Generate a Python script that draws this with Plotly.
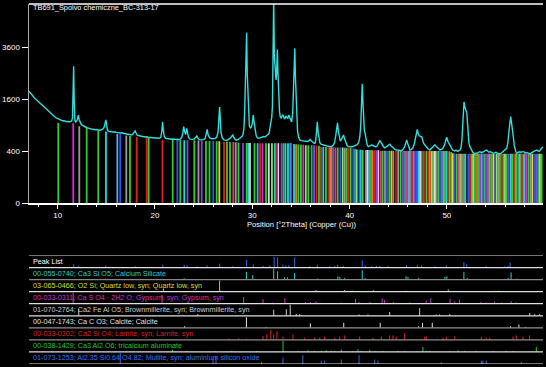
import numpy as np
import plotly.graph_objects as go

W, H = 546, 367

# ---------------- diffraction pattern (2theta, counts) ----------------
two_theta = [7.05, 7.15, 7.25, 7.33, 7.42, 7.5, 7.6, 7.7, 7.84, 7.95, 8.05, 8.2, 8.3, 8.4, 8.52, 8.62, 8.75, 8.85, 8.95, 9.05,
             9.15, 9.25, 9.35, 9.45, 9.55, 9.65, 9.75, 9.85, 9.95, 10.05, 10.15, 10.25, 10.35, 10.45, 10.55, 10.65, 10.75, 10.85, 10.95, 11.05,
             11.15, 11.25, 11.35, 11.45, 11.52, 11.58, 11.64, 11.70, 11.76, 11.85, 11.95, 12.05, 12.12, 12.2, 12.3, 12.4, 12.5, 12.6, 12.7, 12.8,
             12.9, 13.0, 13.1, 13.2, 13.3, 13.4, 13.5, 13.6, 13.7, 13.8, 13.9, 14.0, 14.1, 14.2, 14.3, 14.4, 14.5, 14.6, 14.7, 14.8,
             14.88, 14.95, 15.02, 15.1, 15.2, 15.3, 15.4, 15.5, 15.6, 15.7, 15.8, 15.9, 16.0, 16.1, 16.2, 16.3, 16.4, 16.5, 16.6, 16.7,
             16.8, 16.9, 17.0, 17.1, 17.2, 17.3, 17.4, 17.5, 17.6, 17.7, 17.8, 17.9, 17.95, 18.05, 18.15, 18.3, 18.4, 18.5, 18.6, 18.7,
             18.8, 18.9, 19.0, 19.15, 19.3, 19.45, 19.6, 19.75, 19.9, 20.05, 20.2, 20.35, 20.5, 20.6, 20.7, 20.78, 20.85, 20.95, 21.1, 21.25,
             21.4, 21.55, 21.7, 21.85, 22.0, 22.15, 22.3, 22.45, 22.6, 22.75, 22.85, 22.95, 23.05, 23.15, 23.26, 23.35, 23.45, 23.6, 23.75, 23.9,
             24.05, 24.2, 24.3, 24.4, 24.55, 24.7, 24.85, 25.0, 25.15, 25.25, 25.37, 25.45, 25.6, 25.75, 25.9, 26.05, 26.2, 26.35, 26.48, 26.58,
             26.64, 26.7, 26.78, 26.9, 27.05, 27.2, 27.35, 27.5, 27.65, 27.8, 27.95, 28.0, 28.1, 28.25, 28.4, 28.55, 28.7, 28.85, 28.95, 29.05,
             29.15, 29.22, 29.28, 29.35, 29.42, 29.48, 29.55, 29.62, 29.7, 29.8, 29.9, 29.98, 30.05, 30.1, 30.17, 30.27, 30.4, 30.5, 30.62, 30.75,
             30.9, 31.05, 31.15, 31.3, 31.45, 31.6, 31.72, 31.82, 31.92, 32.0, 32.07, 32.14, 32.2, 32.27, 32.36, 32.44, 32.5, 32.58, 32.64, 32.72,
             32.8, 32.88, 32.96, 33.05, 33.15, 33.25, 33.35, 33.45, 33.55, 33.65, 33.75, 33.85, 33.95, 34.05, 34.15, 34.25, 34.32, 34.37, 34.43, 34.5,
             34.57, 34.65, 34.75, 34.9, 35.05, 35.2, 35.35, 35.5, 35.65, 35.8, 35.93, 36.05, 36.2, 36.35, 36.44, 36.52, 36.6, 36.68, 36.76, 36.85,
             36.95, 37.1, 37.25, 37.4, 37.55, 37.7, 37.85, 38.0, 38.15, 38.3, 38.45, 38.58, 38.68, 38.76, 38.85, 38.95, 39.05, 39.15, 39.28, 39.38,
             39.48, 39.6, 39.75, 39.9, 40.05, 40.2, 40.35, 40.5, 40.65, 40.8, 40.95, 41.05, 41.15, 41.23, 41.3, 41.36, 41.43, 41.52, 41.6, 41.7,
             41.8, 41.92, 42.05, 42.15, 42.27, 42.4, 42.55, 42.7, 42.85, 43.0, 43.1, 43.2, 43.35, 43.5, 43.63, 43.75, 43.9, 44.05, 44.14, 44.25,
             44.4, 44.55, 44.7, 44.84, 45.0, 45.15, 45.35, 45.5, 45.65, 45.78, 45.87, 45.95, 46.05, 46.2, 46.35, 46.5, 46.65, 46.8, 46.9, 46.96,
             47.05, 47.15, 47.3, 47.41, 47.5, 47.62, 47.75, 47.9, 48.05, 48.26, 48.4, 48.55, 48.67, 48.77, 48.9, 49.05, 49.17, 49.28, 49.45, 49.6,
             49.75, 49.87, 49.98, 50.1, 50.2, 50.32, 50.45, 50.6, 50.8, 50.94, 51.1, 51.25, 51.35, 51.45, 51.55, 51.63, 51.7, 51.76, 51.83, 51.9,
             51.97, 52.04, 52.1, 52.18, 52.27, 52.37, 52.5, 52.65, 52.78, 52.89, 53.0, 53.12, 53.25, 53.4, 53.55, 53.7, 53.85, 53.97, 54.09, 54.2,
             54.32, 54.45, 54.6, 54.77, 54.9, 55.05, 55.2, 55.33, 55.46, 55.6, 55.73, 55.87, 56.0, 56.15, 56.25, 56.35, 56.45, 56.56, 56.63, 56.7,
             56.77, 56.83, 56.92, 57.0, 57.1, 57.17, 57.3, 57.45, 57.6, 57.72, 57.86, 58.0, 58.12, 58.25, 58.4, 58.54, 58.68, 58.8, 58.95, 59.1,
             59.23, 59.35, 59.48, 59.6, 59.72, 59.85]
counts = [1860, 1815, 1770, 1740, 1715, 1690, 1650, 1620, 1580, 1545, 1520, 1470, 1450, 1415, 1380, 1360, 1320, 1300, 1265, 1245,
          1215, 1195, 1170, 1150, 1125, 1115, 1095, 1080, 1065, 1050, 1040, 1030, 1025, 1012, 1008, 1000, 995, 1000, 988, 985,
          990, 982, 995, 1010, 1080, 1600, 2780, 1500, 1020, 980, 1000, 1060, 1150, 1040, 960, 930, 905, 890, 875, 865,
          855, 845, 840, 830, 825, 820, 815, 812, 805, 808, 800, 805, 795, 800, 790, 795, 800, 810, 830, 870,
          950, 1030, 930, 800, 770, 760, 755, 765, 750, 755, 745, 752, 745, 740, 745, 735, 740, 730, 735, 725,
          720, 715, 718, 705, 700, 705, 695, 700, 690, 700, 720, 760, 775, 720, 690, 680, 670, 672, 665, 660,
          662, 655, 650, 656, 645, 640, 638, 632, 630, 635, 628, 625, 630, 650, 760, 985, 800, 660, 625, 618,
          612, 615, 608, 612, 605, 603, 606, 600, 610, 640, 720, 868, 760, 700, 832, 720, 640, 610, 600, 605,
          615, 640, 670, 630, 600, 595, 592, 600, 620, 700, 810, 700, 640, 620, 612, 615, 625, 650, 750, 1100,
          1370, 1100, 750, 640, 600, 590, 585, 595, 610, 640, 680, 690, 640, 600, 590, 600, 620, 650, 660, 700,
          850, 1300, 1900, 2600, 4300, 2500, 1900, 1100, 880, 840, 860, 920, 1050, 1150, 1000, 800, 680, 640, 626, 630,
          640, 655, 660, 650, 670, 690, 720, 850, 950, 1100, 1380, 3000, 6200, 3200, 2300, 2250, 2500, 3500, 2500, 1600,
          1250, 1100, 1080, 1120, 1160, 1080, 1060, 1130, 1090, 1060, 1150, 1080, 1000, 980, 1200, 2000, 3000, 3550, 2400, 1500,
          1000, 780, 650, 590, 580, 575, 570, 562, 565, 575, 605, 580, 548, 535, 530, 580, 750, 985, 750, 600,
          540, 515, 505, 500, 495, 485, 480, 475, 478, 495, 540, 680, 900, 960, 760, 620, 570, 600, 650, 690,
          620, 540, 490, 475, 470, 472, 478, 485, 495, 510, 560, 650, 900, 1500, 2110, 1600, 1000, 780, 725, 600,
          510, 474, 480, 490, 505, 495, 480, 470, 490, 530, 580, 560, 500, 470, 455, 470, 490, 505, 515, 490,
          465, 440, 425, 420, 415, 412, 410, 430, 470, 540, 593, 540, 470, 420, 430, 450, 520, 640, 760, 810,
          720, 680, 660, 656, 600, 530, 503, 470, 440, 420, 440, 470, 490, 505, 480, 450, 430, 420, 430, 450,
          500, 580, 645, 570, 520, 500, 460, 420, 405, 420, 400, 410, 420, 450, 600, 900, 1300, 1520, 1400, 1300,
          1260, 1240, 1000, 700, 530, 474, 420, 390, 372, 360, 375, 368, 385, 394, 380, 388, 400, 415, 420, 400,
          385, 395, 380, 370, 375, 385, 372, 365, 360, 375, 390, 400, 415, 447, 520, 650, 900, 1110, 1000, 880,
          720, 656, 500, 430, 385, 370, 380, 392, 385, 395, 394, 385, 375, 380, 368, 360, 375, 390, 400, 412,
          420, 405, 398, 420, 440, 470]

# ---------------- reference lines in main view ----------------
ref_pos = [10.06, 11.60, 12.22, 12.98, 14.17, 14.96, 16.13, 16.43, 17.05, 17.43, 18.12, 19.15, 19.35, 20.77, 21.82, 23.01,
           23.34, 24.04, 24.47, 25.24, 25.99, 26.34, 26.61, 27.40, 27.71, 28.05, 28.58, 29.04, 29.42, 29.76, 30.23, 31.05,
           31.41, 32.02, 32.33, 32.67, 33.00, 33.41, 33.67, 33.93, 34.29, 34.73, 35.24, 35.76, 36.10, 36.60, 37.06, 37.30,
           37.57, 37.81, 38.16, 38.33, 38.78, 39.29, 39.70, 40.11, 40.38, 40.73, 41.00, 41.35, 41.69, 42.00, 42.37, 42.79,
           42.95, 43.21, 43.64, 44.08, 44.49, 44.77, 45.49, 45.87, 46.21, 46.55, 46.88, 47.06, 47.24, 47.58, 47.75, 48.09,
           48.44, 48.60, 48.88, 49.29, 49.63, 49.98, 50.25, 50.60, 51.01, 51.35, 51.76, 52.20, 52.55, 52.89, 53.47, 53.74,
           54.02, 54.36, 54.77, 55.12, 55.46, 55.80, 56.15, 56.56, 56.90, 57.17, 57.51, 57.85, 58.20, 58.61, 59.05, 59.39, 59.74]
ref_color = ["green", "magenta", "grey", "green", "green", "cyan", "lightblue", "blue", "grey", "green", "red", "red", "green", "red", "green", "cyan",
             "purple", "green", "grey", "green", "blue", "green", "yellow", "green", "green", "pink", "green", "purple", "green", "white", "green", "magenta",
             "green", "lightgreen", "cyan", "white", "purple", "cyan", "cyan", "white", "cyan", "green", "magenta", "green", "teal", "red", "brown", "cyan",
             "green", "darkred", "green", "purple", "green", "lightgreen", "green", "green", "blue", "lightgreen", "blue", "green", "grey", "lightblue", "orange", "purple",
             "white", "pink", "grey", "green", "orange", "darkred", "purple", "pink", "grey", "green", "blue", "cyan", "white", "brown", "darkred", "red",
             "lightgreen", "green", "grey", "blue", "lightblue", "cyan", "orange", "yellow", "green", "lightgreen", "green", "blue", "green", "green", "purple", "blue",
             "purple", "grey", "yellow", "lightgreen", "green", "green", "green", "cyan", "red", "green", "lightgreen", "green", "magenta", "grey", "blue", "green", "green"]
ref_top = [960, 950, 880, 840, 780, 760, 710, 705, 680, 670, 655, 645, 640, 595, 595, 590,
           590, 590, 585, 575, 575, 570, 570, 560, 555, 555, 545, 540, 540, 540, 535, 535,
           535, 535, 535, 535, 535, 535, 535, 535, 520, 510, 505, 500, 500, 495, 470, 470,
           470, 465, 465, 465, 460, 460, 455, 455, 450, 430, 425, 420, 420, 420, 415, 415,
           415, 410, 410, 410, 410, 410, 405, 405, 405, 405, 405, 405, 405, 405, 405, 405,
           405, 405, 405, 405, 405, 405, 400, 370, 365, 365, 365, 365, 365, 365, 365, 365,
           365, 365, 365, 365, 365, 365, 365, 365, 365, 365, 365, 365, 365, 365, 365, 365, 365]
# further markers read between the ones above
ref2_pos = [22.3, 22.6, 24.8, 25.6, 27.1, 28.3, 29.6, 30.55, 30.8, 31.7, 32.5, 33.2, 34.0, 34.5, 35.0, 35.5,
            36.35, 36.85, 38.0, 38.55, 39.05, 39.5, 39.9, 40.55, 41.15, 41.85, 42.2, 42.6, 43.4, 43.85, 44.3, 45.0,
            45.25, 45.7, 46.05, 46.4, 46.7, 47.4, 47.9, 48.25, 48.75, 49.1, 49.45, 49.8, 50.45, 50.8, 51.2, 51.55,
            51.9, 52.38, 52.7, 53.1, 53.3, 53.6, 53.9, 54.2, 54.55, 54.95, 55.3, 55.63, 55.97, 56.35, 56.72, 57.0,
            57.35, 57.68, 58.0, 58.4, 58.8, 59.2, 59.56]
ref2_color = ["blue", "green", "purple", "green", "red", "grey", "cyan", "lightblue", "red", "white", "darkred", "green", "blue", "orange", "green", "lightgreen",
              "purple", "green", "orange", "pink", "blue", "grey", "red", "teal", "cyan", "white", "green", "red", "green", "blue", "lightgreen", "grey",
              "green", "teal", "lightblue", "red", "purple", "green", "green", "orange", "white", "green", "pink", "green", "green", "blue", "pink", "grey",
              "lightblue", "red", "lightgreen", "orange", "green", "lightgreen", "green", "magenta", "green", "blue", "grey", "red", "lightgreen", "purple", "green", "grey",
              "teal", "red", "lightblue", "green", "yellow", "purple", "lightgreen"]
ref2_top = [595, 595, 585, 575, 560, 550, 540, 535, 535, 535, 535, 535, 535, 515, 505, 500,
            500, 490, 465, 462, 460, 458, 455, 440, 425, 420, 420, 415, 410, 410, 410, 405,
            405, 405, 405, 405, 405, 405, 405, 405, 405, 405, 405, 405, 390, 368, 365, 365,
            365, 365, 365, 365, 365, 365, 365, 365, 365, 365, 365, 365, 365, 365, 365, 365,
            365, 365, 365, 365, 365, 365, 365]
palette = {"green": "#33cc33", "lightgreen": "#8fe860", "magenta": "#cc33cc", "pink": "#ee3380", "grey": "#9a9a9a",
           "white": "#dcdcdc", "cyan": "#22dada", "teal": "#22a89a", "lightblue": "#55aaee", "blue": "#3355ee",
           "purple": "#8844dd", "red": "#dd2222", "darkred": "#a82233", "brown": "#aa4422", "orange": "#ee7722",
           "yellow": "#dddd33"}

# ---------------- stick panel ----------------
row_labels = ["Peak List",
              "00-055-0740; Ca3 Si O5; Calcium Silicate",
              "03-065-0466; O2 Si; Quartz low, syn; Quartz low, syn",
              "00-033-0311; Ca S O4 \u00b7 2H2 O; Gypsum, syn; Gypsum, syn",
              "01-070-2764; Ca2 Fe Al O5; Brownmillerite, syn; Brownmillerite, syn",
              "00-047-1743; Ca C O3; Calcite; Calcite",
              "00-033-0302; Ca2 Si O4; Larnite, syn; Larnite, syn",
              "00-038-1429; Ca3 Al2 O6; tricalcium aluminate",
              "01-073-1253; Al2.35 Si0.64 O4.82; Mullite, syn; aluminium silicon oxide"]
row_text_colors = ["#ffffff", "#33cccc", "#dddd33", "#cc33cc", "#cccccc", "#e0e0e0", "#dd2222", "#22cc22", "#3377ee"]
row_stick_colors = ["#3366ff", "#33cccc", "#cccc22", "#cc33cc", "#c8c8c8", "#e0e0e0", "#dd2222", "#22cc22", "#3366dd"]
row_sep_colors = ["#e8e8e8", "#e0e0e0", "#888888", "#e0e0e0", "#e0e0e0", "#e0e0e0", "#909090", "#909090", "#e0e0e0", "#e8e8e8"]

peak_pos = [11.65, 12.15, 14.95, 17.95, 20.8, 23.0, 23.3, 24.3, 25.35, 26.65, 28.0, 29.42, 30.1, 31.1, 31.8, 32.25, 32.6,
            33.15, 33.45, 33.75, 34.36, 35.9, 36.68, 37.95, 38.5, 38.78, 39.35, 41.3, 41.6, 42.25, 42.75, 43.1, 43.95, 45.85,
            46.96, 47.41, 48.77, 49.95, 51.75, 52.04, 54.05, 55.95, 56.3, 56.5]
peak_h = [0.3, 0.15, 0.2, 0.12, 0.25, 0.25, 0.2, 0.1, 0.2, 0.35, 0.12, 0.7, 0.3, 0.15, 0.2, 0.95, 0.9,
          0.25, 0.2, 0.2, 0.9, 0.12, 0.25, 0.12, 0.15, 0.25, 0.15, 0.65, 0.2, 0.12, 0.15, 0.15, 0.12, 0.2,
          0.25, 0.2, 0.12, 0.2, 0.5, 0.3, 0.12, 0.12, 0.15, 0.45]
c3s_pos = [14.9, 23.0, 25.3, 29.4, 30.05, 32.2, 32.6, 33.3, 33.6, 34.35, 36.7, 38.8, 39.0, 39.5, 41.3, 41.6, 45.8, 46.0,
           47.1, 49.8, 50.0, 51.75, 52.1, 56.3, 56.6, 57.2, 59.9]
c3s_h = [0.08, 0.12, 0.06, 0.7, 0.4, 1.0, 0.75, 0.2, 0.2, 0.6, 0.1, 0.3, 0.25, 0.15, 0.85, 0.15, 0.3, 0.25,
         0.15, 0.25, 0.3, 0.7, 0.15, 0.15, 0.65, 0.1, 0.1]
qtz_pos = [20.86, 26.64, 36.54, 39.47, 40.29, 42.45, 45.79, 50.14, 54.87, 55.33, 57.24, 59.96]
qtz_h = [0.3, 1.0, 0.15, 0.15, 0.08, 0.12, 0.08, 0.2, 0.08, 0.08, 0.05, 0.15]
gyp_pos = [11.59, 20.72, 23.39, 29.11, 31.10, 32.09, 33.35, 35.45, 35.97, 36.56, 37.0, 39.15, 40.62, 40.97, 42.1, 43.35,
           43.6, 44.5, 46.2, 47.87, 48.35, 50.33, 50.8, 51.3, 53.5, 54.05, 54.9, 55.6, 56.6, 57.1]
gyp_h = [1.0, 0.8, 0.2, 0.6, 0.4, 0.1, 0.5, 0.15, 0.15, 0.2, 0.08, 0.1, 0.45, 0.15, 0.15, 0.5,
         0.35, 0.15, 0.12, 0.3, 0.5, 0.45, 0.2, 0.35, 0.15, 0.12, 0.2, 0.12, 0.25, 0.12]
brm_pos = [12.16, 24.4, 32.2, 33.5, 33.9, 34.52, 34.87, 40.97, 41.89, 44.12, 47.2, 48.91, 49.26, 50.29, 58.51, 59.03, 59.54]
brm_h = [0.6, 0.15, 0.55, 0.6, 1.0, 0.15, 0.15, 0.12, 0.12, 0.35, 0.7, 0.12, 0.12, 0.15, 0.25, 0.15, 0.15]
cal_pos = [23.05, 29.4, 31.4, 35.97, 39.4, 43.15, 47.1, 47.5, 48.5, 56.55, 57.4, 58.1]
cal_h = [0.15, 0.95, 0.08, 0.4, 0.45, 0.45, 0.15, 0.45, 0.45, 0.15, 0.3, 0.08]
lar_pos = [27.6, 28.6, 29.4, 31.1, 31.5, 31.9, 32.2, 32.54, 33.16, 34.18, 35.39, 36.41, 36.93, 37.44, 38.47, 38.98, 39.5,
           41.04, 42.4, 43.26, 44.12, 44.46, 44.8, 45.66, 47.72, 47.88, 49.6, 49.94, 50.8, 53.54, 54.05, 54.4, 56.8,
           57.13, 57.82, 58.51]
lar_h = [0.12, 0.15, 0.12, 0.35, 0.55, 0.9, 0.5, 0.8, 0.3, 0.5, 0.2, 0.2, 0.2, 0.3, 0.2, 0.3, 0.4,
         0.3, 0.2, 0.3, 0.4, 0.4, 0.3, 0.6, 0.3, 0.3, 0.2, 0.3, 0.3, 0.3, 0.2, 0.2, 0.3,
         0.4, 0.3, 0.4]
c3a_pos = [21.8, 23.3, 26.2, 27.9, 30.5, 33.16, 34.7, 35.73, 36.4, 37.09, 37.6, 38.12, 38.47, 39.15, 40.35, 40.86, 41.2,
           42.07, 42.58, 43.43, 44.97, 45.66, 47.54, 47.88, 48.23, 50.29, 51.14, 51.83, 53.02, 54.74, 56.1, 56.8, 59.19]
c3a_h = [0.2, 0.1, 0.06, 0.1, 0.1, 1.0, 0.1, 0.15, 0.1, 0.1, 0.15, 0.1, 0.1, 0.2, 0.1, 0.25, 0.1,
         0.2, 0.1, 0.1, 0.1, 0.1, 0.45, 0.1, 0.1, 0.1, 0.15, 0.1, 0.1, 0.1, 0.1, 0.1, 0.45]
mul_pos = [16.43, 25.97, 26.27, 30.96, 33.16, 35.2, 37.09, 37.44, 39.15, 40.97, 42.58, 42.92, 49.43, 53.54, 53.7, 54.05, 57.65]
mul_h = [1.0, 0.5, 0.7, 0.2, 0.6, 0.8, 0.3, 0.3, 0.4, 0.8, 0.4, 0.3, 0.15, 0.3, 0.3, 0.3, 0.2]

row_sticks = [(peak_pos, peak_h), (c3s_pos, c3s_h), (qtz_pos, qtz_h), (gyp_pos, gyp_h), (brm_pos, brm_h),
              (cal_pos, cal_h), (lar_pos, lar_h), (c3a_pos, c3a_h), (mul_pos, mul_h)]

plot_title = "TB691_Spoivo chemiczne_BC-313-17"
x_title = "Position [\u00b02Theta] (Copper (Cu))"
y_tick_counts = [0, 400, 1600, 3600]
x_ticks = [10, 20, 30, 40, 50]

# ---------------- geometry (pixels) ----------------
x_left, x_right = 29, 543
main_top, main_bot = 4, 203.3
panel_top, panel_bot = 255.5, 364.0
x_range = [7.05, 59.88]
y_max_sqrt = (main_bot - main_top) / 2.6

FONT = "Liberation Sans, Arial, sans-serif"

fig = go.Figure()

# reference lines
all_pos = ref_pos + ref2_pos
all_col = ref_color + ref2_color
all_top = ref_top + ref2_top
for cname in palette:
    xs, ys = [], []
    for p, c, t in zip(all_pos, all_col, all_top):
        if c == cname:
            xs += [p, p, None]
            ys += [0, np.sqrt(t), None]
    if xs:
        fig.add_trace(go.Scatter(x=xs, y=ys, mode="lines", line=dict(color=palette[cname], width=1.8),
                                 hoverinfo="skip", showlegend=False))

# measured pattern
fig.add_trace(go.Scatter(x=two_theta, y=np.sqrt(np.array(counts, dtype=float)), mode="lines",
                         line=dict(color="#33dede", width=1.4), hoverinfo="skip", showlegend=False))

# stick panel
for r, (pos, hh) in enumerate(row_sticks):
    base = 8 - r
    xs, ys = [], []
    for p, h in zip(pos, hh):
        xs += [p, p, None]
        ys += [base, base + 0.92 * h, None]
    fig.add_trace(go.Scatter(x=xs, y=ys, mode="lines", xaxis="x2", yaxis="y2",
                             line=dict(color=row_stick_colors[r], width=1), hoverinfo="skip", showlegend=False))

shapes = []
shapes.append(dict(type="line", xref="paper", yref="paper", x0=x_left / W, x1=x_right / W,
                   y0=(H - main_top) / H, y1=(H - main_top) / H, line=dict(color="#ffffff", width=1.5)))
for k in range(10):
    shapes.append(dict(type="line", xref="x2 domain", yref="y2", x0=0, x1=1, y0=9 - k, y1=9 - k,
                       line=dict(color=row_sep_colors[k], width=1.2)))

annotations = []
annotations.append(dict(text=plot_title, xref="paper", yref="paper", x=31 / W, y=(H - 8) / H,
                        xanchor="left", yanchor="middle", showarrow=False,
                        font=dict(family=FONT, size=7.4, color="#ffffff")))
annotations.append(dict(text=x_title, xref="paper", yref="paper", x=301 / W, y=(H - 224) / H,
                        xanchor="center", yanchor="middle", showarrow=False,
                        font=dict(family=FONT, size=7.6, color="#ffffff")))
for r, lab in enumerate(row_labels):
    annotations.append(dict(text=lab, xref="x2 domain", yref="y2", x=0.004, y=8.5 - r,
                            xanchor="left", yanchor="middle", showarrow=False,
                            font=dict(family=FONT, size=7.2, color=row_text_colors[r])))

fig.update_layout(
    width=W, height=H, margin=dict(l=0, r=0, t=0, b=0, autoexpand=False),
    paper_bgcolor="#000000", plot_bgcolor="#000000",
    showlegend=False, shapes=shapes, annotations=annotations,
    xaxis=dict(domain=[x_left / W, x_right / W], range=x_range, anchor="y", automargin=False,
               tickmode="array", tickvals=x_ticks, ticks="outside", ticklen=4, tickcolor="#ffffff",
               showline=True, linecolor="#ffffff", linewidth=1.5, showgrid=False, zeroline=False,
               tickfont=dict(family=FONT, size=8, color="#ffffff"),
               minor=dict(tickmode="linear", tick0=0, dtick=2, ticks="outside", ticklen=2,
                          tickcolor="#ffffff", showgrid=False)),
    yaxis=dict(domain=[(H - main_bot) / H, (H - main_top) / H], range=[0, y_max_sqrt], anchor="x", automargin=False,
               tickmode="array", tickvals=[np.sqrt(v) for v in y_tick_counts],
               ticktext=[str(v) for v in y_tick_counts], ticks="outside", ticklen=6, tickcolor="#ffffff",
               showline=True, linecolor="#a8a8a8", linewidth=1.5, showgrid=False, zeroline=False,
               tickfont=dict(family=FONT, size=8, color="#ffffff")),
    xaxis2=dict(domain=[x_left / W, x_right / W], range=x_range, anchor="y2", visible=False, automargin=False),
    yaxis2=dict(domain=[(H - panel_bot) / H, (H - panel_top) / H], range=[0, 9], anchor="x2", visible=False,
                automargin=False),
)

fig.write_html("out.html", config={"displayModeBar": False, "staticPlot": True},
               post_script="document.body.style.margin='0';document.body.style.padding='0';"
                           "document.body.style.background='#000';"
                           "document.documentElement.style.background='#000';")
